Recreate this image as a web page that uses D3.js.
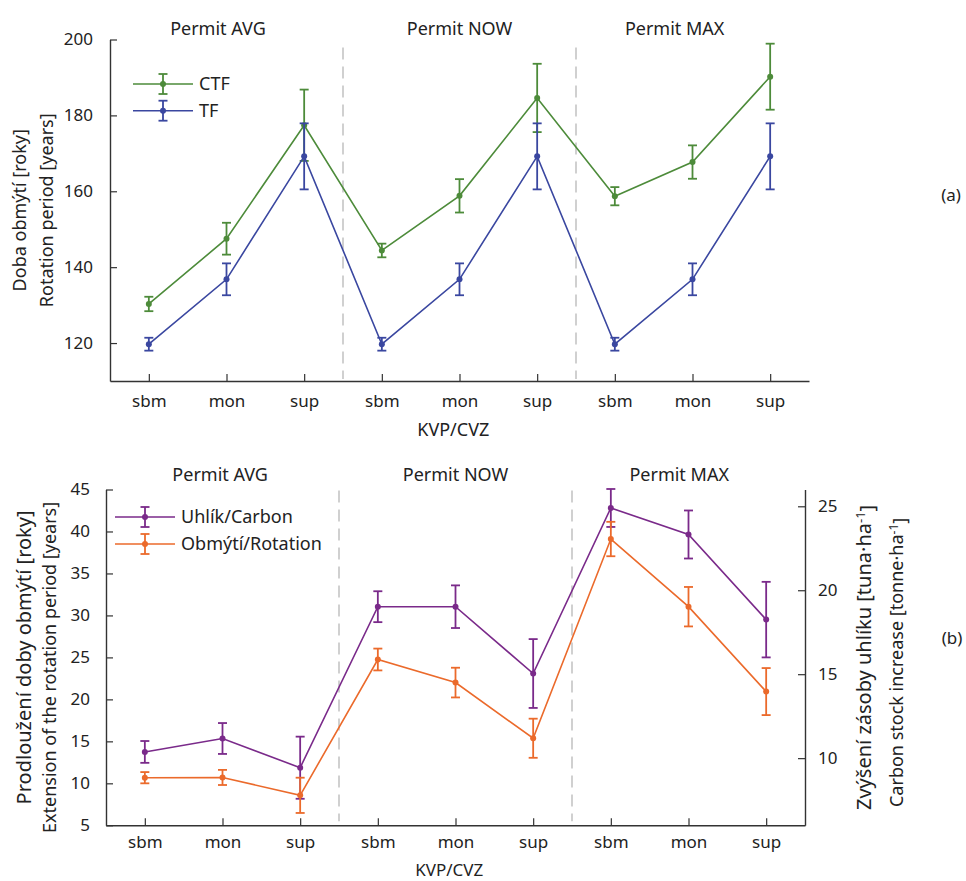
<!DOCTYPE html>
<html>
<head>
<meta charset="utf-8">
<script src="https://cdn.jsdelivr.net/npm/d3@7"></script>
<style>
  html, body { margin: 0; padding: 0; background: #fff; }
  svg { display: block; font-family: "Noto Sans", "Open Sans", sans-serif; }
  text { fill: #222; }
</style>
</head>
<body>
<svg id="chart" width="966" height="881"></svg>
<script>
// ---------- data ----------
const categories = ["sbm", "mon", "sup", "sbm", "mon", "sup", "sbm", "mon", "sup"];
const permits = ["Permit AVG", "Permit NOW", "Permit MAX"];
const permitTitlePosTop = [1.89, 5.0, 7.77];
const permitTitlePosBottom = [1.97, 5.0, 7.88];
const dividers = [3.5, 6.5];

// panel (a): rotation period [years]
const ctfMean = [130.3, 147.5, 177.4, 144.4, 158.8, 184.6, 158.7, 167.7, 190.2];
const ctfErr  = [1.9, 4.2, 9.4, 1.8, 4.4, 9.0, 2.4, 4.4, 8.7];
const tfMean  = [119.7, 136.8, 169.2, 119.7, 136.8, 169.2, 119.7, 136.8, 169.2];
const tfErr   = [1.7, 4.2, 8.7, 1.7, 4.2, 8.7, 1.7, 4.2, 8.7];
const topTicks = [120, 140, 160, 180, 200];

// panel (b): carbon (right axis) and rotation extension (left axis)
const carbonMean = [10.37, 11.17, 9.43, 19.02, 19.02, 15.04, 24.9, 23.32, 18.25];
const carbonErr  = [0.65, 0.92, 1.85, 0.92, 1.27, 2.05, 1.13, 1.43, 2.25];
const rotExtMean = [10.67, 10.7, 8.57, 24.75, 22.0, 15.37, 39.1, 31.04, 20.93];
const rotExtErr  = [0.67, 0.9, 2.1, 1.3, 1.77, 2.33, 2.05, 2.35, 2.8];
const bottomLeftTicks = [5, 10, 15, 20, 25, 30, 35, 40, 45];
const bottomRightTicks = [10, 15, 20, 25];

// ---------- styles ----------
const colors = { ctf: "#4d8b3a", tf: "#3a47a0", carbon: "#7a2a8a", rot: "#eb6a2b" };
const axisColor = "#333";
const svg = d3.select("#chart");
const xIdx = categories.map((d, i) => i + 1);

function drawSeries(g, x, y, mean, err, color) {
  const pts = mean.map((m, i) => ({ x: xIdx[i], m, e: err[i] }));
  g.append("path")
    .datum(pts)
    .attr("fill", "none")
    .attr("stroke", color)
    .attr("stroke-width", 1.6)
    .attr("d", d3.line().x(d => x(d.x)).y(d => y(d.m)));
  const eb = g.append("g").attr("stroke", color).attr("stroke-width", 1.8).attr("fill", "none");
  pts.forEach(d => {
    const cx = x(d.x);
    eb.append("line").attr("x1", cx).attr("x2", cx).attr("y1", y(d.m - d.e)).attr("y2", y(d.m + d.e));
    eb.append("line").attr("x1", cx - 4.5).attr("x2", cx + 4.5).attr("y1", y(d.m - d.e)).attr("y2", y(d.m - d.e));
    eb.append("line").attr("x1", cx - 4.5).attr("x2", cx + 4.5).attr("y1", y(d.m + d.e)).attr("y2", y(d.m + d.e));
  });
  g.append("g").selectAll("circle").data(pts).join("circle")
    .attr("cx", d => x(d.x)).attr("cy", d => y(d.m)).attr("r", 3)
    .attr("fill", color);
}

function legendItem(g, x0, x1, yy, color, label, textX) {
  const mid = (x0 + x1) / 2;
  g.append("line").attr("x1", x0).attr("x2", x1).attr("y1", yy).attr("y2", yy)
    .attr("stroke", color).attr("stroke-width", 1.6);
  const eb = g.append("g").attr("stroke", color).attr("stroke-width", 1.8);
  eb.append("line").attr("x1", mid).attr("x2", mid).attr("y1", yy - 10).attr("y2", yy + 10);
  eb.append("line").attr("x1", mid - 4.5).attr("x2", mid + 4.5).attr("y1", yy - 10).attr("y2", yy - 10);
  eb.append("line").attr("x1", mid - 4.5).attr("x2", mid + 4.5).attr("y1", yy + 10).attr("y2", yy + 10);
  g.append("circle").attr("cx", mid).attr("cy", yy).attr("r", 3).attr("fill", color);
  g.append("text").attr("x", textX).attr("y", yy).attr("dy", "0.36em")
    .attr("font-size", 18).text(label);
}

function styleAxis(g) {
  g.selectAll(".domain").attr("stroke", axisColor).attr("stroke-width", 1.4);
  g.selectAll(".tick line").attr("stroke", axisColor).attr("stroke-width", 1.2);
  g.selectAll(".tick text").attr("fill", "#222").attr("font-size", 17)
    .attr("font-family", "Noto Sans, Open Sans, sans-serif");
}

// ================= Panel (a) =================
{
  const x = d3.scaleLinear().domain([0.5, 9.5]).range([110, 809]);
  const y = d3.scaleLinear().domain([110, 200]).range([381, 39.5]);
  const g = svg.append("g");

  dividers.forEach(dv => {
    g.append("line").attr("x1", x(dv)).attr("x2", x(dv)).attr("y1", y(200) + 8).attr("y2", y(110) - 2)
      .attr("stroke", "#bdbdbd").attr("stroke-width", 1.4).attr("stroke-dasharray", "12,7");
  });

  const xAxis = d3.axisBottom(x).tickValues(xIdx).tickFormat((d, i) => categories[i])
    .tickSizeInner(-7).tickSizeOuter(0).tickPadding(14);
  const gx = g.append("g").attr("transform", `translate(0,${y(110)})`).call(xAxis);
  styleAxis(gx);
  gx.selectAll(".tick text").attr("dy", "0.71em");

  const yAxis = d3.axisLeft(y).tickValues(topTicks).tickSizeInner(-7).tickSizeOuter(0).tickPadding(17);
  const gy = g.append("g").attr("transform", `translate(${x(0.5)},0)`).call(yAxis);
  styleAxis(gy);

  drawSeries(g, x, y, ctfMean, ctfErr, colors.ctf);
  drawSeries(g, x, y, tfMean, tfErr, colors.tf);

  permits.forEach((p, i) => {
    g.append("text").attr("x", x(permitTitlePosTop[i])).attr("y", 35)
      .attr("text-anchor", "middle").attr("font-size", 18).text(p);
  });

  g.append("text").attr("x", x(4.92)).attr("y", 436).attr("text-anchor", "middle")
    .attr("font-size", 18).text("KVP/CVZ");

  g.append("text").attr("transform", `translate(20,${y(155)}) rotate(-90)`).attr("dy", "0.36em")
    .attr("text-anchor", "middle").attr("font-size", 18).text("Doba obmýtí [roky]");
  g.append("text").attr("transform", `translate(47,${y(155)}) rotate(-90)`).attr("dy", "0.36em")
    .attr("text-anchor", "middle").attr("font-size", 18).text("Rotation period [years]");

  g.append("text").attr("x", 951).attr("y", 195).attr("dy", "0.36em").attr("text-anchor", "middle")
    .attr("font-size", 17).text("(a)");

  legendItem(g, 133, 193, 84, colors.ctf, "CTF", 199);
  legendItem(g, 133, 193, 110.7, colors.tf, "TF", 199);
}

// ================= Panel (b) =================
{
  const x = d3.scaleLinear().domain([0.5, 9.5]).range([106, 805]);
  const yL = d3.scaleLinear().domain([5, 45]).range([825.3, 489.5]);
  const yR = d3.scaleLinear().domain([6, 26]).range([825.3, 489.5]);
  const g = svg.append("g");

  dividers.forEach(dv => {
    g.append("line").attr("x1", x(dv)).attr("x2", x(dv)).attr("y1", yL(45) + 1).attr("y2", yL(5) - 4)
      .attr("stroke", "#bdbdbd").attr("stroke-width", 1.4).attr("stroke-dasharray", "12,7");
  });

  const xAxis = d3.axisBottom(x).tickValues(xIdx).tickFormat((d, i) => categories[i])
    .tickSizeInner(-7).tickSizeOuter(0).tickPadding(11);
  const gx = g.append("g").attr("transform", `translate(0,${yL(5)})`).call(xAxis);
  styleAxis(gx);
  gx.selectAll(".tick text").attr("dy", "0.71em");

  const yAxisL = d3.axisLeft(yL).tickValues(bottomLeftTicks).tickSizeInner(-7).tickSizeOuter(0).tickPadding(16);
  const gyl = g.append("g").attr("transform", `translate(${x(0.5)},0)`).call(yAxisL);
  styleAxis(gyl);

  const yAxisR = d3.axisRight(yR).tickValues(bottomRightTicks).tickSizeInner(-7).tickSizeOuter(0).tickPadding(13);
  const gyr = g.append("g").attr("transform", `translate(${x(9.5)},0)`).call(yAxisR);
  styleAxis(gyr);

  drawSeries(g, x, yR, carbonMean, carbonErr, colors.carbon);
  drawSeries(g, x, yL, rotExtMean, rotExtErr, colors.rot);

  permits.forEach((p, i) => {
    g.append("text").attr("x", x(permitTitlePosBottom[i])).attr("y", 481)
      .attr("text-anchor", "middle").attr("font-size", 18).text(p);
  });

  g.append("text").attr("x", x(4.92)).attr("y", 876).attr("text-anchor", "middle")
    .attr("font-size", 17).text("KVP/CVZ");

  const midY = (yL(5) + yL(45)) / 2;
  g.append("text").attr("transform", `translate(24,${midY}) rotate(-90)`).attr("dy", "0.36em")
    .attr("text-anchor", "middle").attr("font-size", 20).text("Prodloužení doby obmýtí [roky]");
  g.append("text").attr("transform", `translate(50,${midY + 10}) rotate(-90)`).attr("dy", "0.36em")
    .attr("text-anchor", "middle").attr("font-size", 18).text("Extension of the rotation period [years]");

  const r1 = g.append("text").attr("transform", `translate(864,${midY}) rotate(-90)`).attr("dy", "0.36em")
    .attr("text-anchor", "middle").attr("font-size", 20);
  r1.append("tspan").text("Zvýšení zásoby uhlíku [tuna·ha");
  r1.append("tspan").attr("dy", "-0.45em").attr("font-size", 13).text("-1");
  r1.append("tspan").attr("dy", "0.45em").text("]");

  const r2 = g.append("text").attr("transform", `translate(897,${midY + 5}) rotate(-90)`).attr("dy", "0.36em")
    .attr("text-anchor", "middle").attr("font-size", 18);
  r2.append("tspan").text("Carbon stock increase [tonne·ha");
  r2.append("tspan").attr("dy", "-0.45em").attr("font-size", 12).text("-1");
  r2.append("tspan").attr("dy", "0.45em").text("]");

  g.append("text").attr("x", 952).attr("y", 638).attr("dy", "0.36em").attr("text-anchor", "middle")
    .attr("font-size", 17).text("(b)");

  legendItem(g, 115, 175, 517, colors.carbon, "Uhlík/Carbon", 181);
  legendItem(g, 115, 175, 544, colors.rot, "Obmýtí/Rotation", 181);
}
</script>
</body>
</html>
